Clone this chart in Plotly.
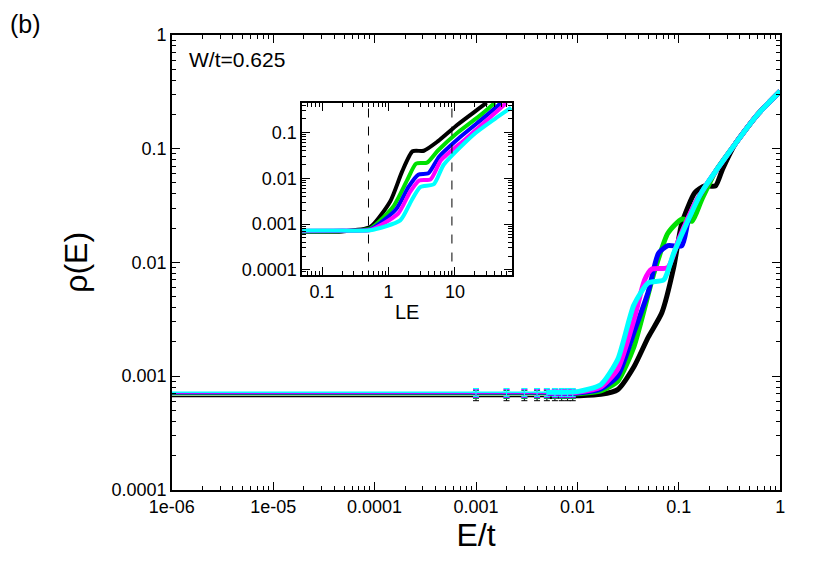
import numpy as np
import plotly.graph_objects as go

colors = ["black", "#00e000", "blue", "magenta", "cyan"]

main_E = {
 "black":   [0.005, 0.01, 0.017, 0.025, 0.036, 0.05, 0.068, 0.089, 0.107, 0.144, 0.18, 0.23, 0.27, 0.36, 0.6, 1.0],
 "green":   [0.005, 0.01, 0.017, 0.025, 0.036, 0.057, 0.078, 0.107, 0.135, 0.167, 0.23, 0.36, 0.6, 1.0],
 "blue":    [0.005, 0.01, 0.017, 0.025, 0.036, 0.05, 0.063, 0.078, 0.107, 0.125, 0.167, 0.36, 0.6, 1.0],
 "magenta": [0.005, 0.01, 0.017, 0.025, 0.036, 0.046, 0.054, 0.078, 0.1, 0.15, 0.36, 0.6, 1.0],
 "cyan":    [0.005, 0.01, 0.017, 0.025, 0.036, 0.05, 0.071, 0.089, 0.167, 0.36, 0.6, 1.0],
}
main_rho = {
 "black":   [6.6e-4, 6.7e-4, 6.9e-4, 7.6e-4, 0.0012, 0.0022, 0.0036, 0.009, 0.022, 0.041, 0.047, 0.047, 0.066, 0.11, 0.2, 0.32],
 "green":   [6.9e-4, 7.0e-4, 7.4e-4, 9.0e-4, 0.0018, 0.0081, 0.018, 0.024, 0.023, 0.035, 0.063, 0.11, 0.2, 0.32],
 "blue":    [7.0e-4, 7.1e-4, 7.7e-4, 1.0e-3, 0.0024, 0.0055, 0.012, 0.014, 0.014, 0.024, 0.041, 0.11, 0.2, 0.32],
 "magenta": [7.1e-4, 7.2e-4, 8.0e-4, 1.15e-3, 0.0031, 0.007, 0.0087, 0.009, 0.016, 0.035, 0.11, 0.2, 0.32],
 "cyan":    [7.2e-4, 7.3e-4, 8.4e-4, 1.4e-3, 0.0042, 0.0066, 0.007, 0.012, 0.041, 0.11, 0.2, 0.32],
}
flat_level = {"black": 6.6e-4, "green": 6.9e-4, "blue": 7.0e-4, "magenta": 7.1e-4, "cyan": 7.2e-4}
err_E = [0.001, 0.002, 0.003, 0.004, 0.005, 0.006, 0.007, 0.008, 0.009]

ins_LE = {
 "black":   [0.05, 0.2, 0.53, 1.07, 1.6, 2.3, 3.4, 5.5, 11, 22, 30],
 "green":   [0.05, 0.2, 0.53, 1.2, 1.9, 2.6, 3.8, 5.5, 11, 25, 40],
 "blue":    [0.05, 0.2, 0.53, 1.3, 2.0, 2.8, 4.0, 5.8, 12, 28, 50],
 "magenta": [0.05, 0.2, 0.53, 1.4, 2.1, 2.9, 4.3, 6.2, 14, 32, 60],
 "cyan":    [0.05, 0.2, 0.53, 1.5, 2.2, 3.0, 4.8, 6.8, 19, 40, 70],
}
ins_rho = {
 "black":   [6.8e-4, 6.9e-4, 8.6e-4, 0.0032, 0.014, 0.039, 0.04, 0.064, 0.15, 0.32, 0.45],
 "green":   [6.9e-4, 7.0e-4, 8.0e-4, 0.0025, 0.009, 0.021, 0.022, 0.04, 0.1, 0.25, 0.45],
 "blue":    [7.0e-4, 7.1e-4, 7.6e-4, 0.0021, 0.0065, 0.012, 0.013, 0.03, 0.08, 0.22, 0.45],
 "magenta": [7.1e-4, 7.2e-4, 7.4e-4, 0.0017, 0.005, 0.009, 0.0095, 0.025, 0.07, 0.2, 0.45],
 "cyan":    [7.2e-4, 7.2e-4, 7.3e-4, 0.0012, 0.0032, 0.0064, 0.0074, 0.02, 0.09, 0.2, 0.35],
}
dashed_LE = [0.5, 9.0]

names = ["black", "green", "blue", "magenta", "cyan"]
fig = go.Figure()
for n, c in zip(names, colors):
    fig.add_trace(go.Scatter(x=[1e-6, 0.005], y=[flat_level[n]]*2, mode="lines",
                             line=dict(color=c, width=1.5), showlegend=False))
    fig.add_trace(go.Scatter(x=err_E, y=[flat_level[n]]*len(err_E), mode="markers",
                             marker=dict(symbol="line-ew", size=6, color=c, line=dict(color=c, width=1)),
                             error_y=dict(type="percent", value=8, color=c, width=3, thickness=1),
                             showlegend=False))
    fig.add_trace(go.Scatter(x=main_E[n], y=main_rho[n], mode="lines", line=dict(color=c, width=5, shape="spline", smoothing=0.6),
                             showlegend=False))
    fig.add_trace(go.Scatter(x=ins_LE[n], y=ins_rho[n], mode="lines", xaxis="x2", yaxis="y2",
                             line=dict(color=c, width=4, shape="spline", smoothing=0.6), showlegend=False))
for d in dashed_LE:
    fig.add_trace(go.Scatter(x=[d, d], y=[1e-5, 1], mode="lines", xaxis="x2", yaxis="y2",
                             line=dict(color="black", width=1, dash="dash"), showlegend=False))

def minors(lo, hi):
    return [m * 10.0**k for k in range(lo, hi) for m in range(2, 10)]

xt = [1e-6, 1e-5, 1e-4, 1e-3, 1e-2, 0.1, 1]
xtt = ["1e-06", "1e-05", "0.0001", "0.001", "0.01", "0.1", "1"]
yt = [1e-4, 1e-3, 1e-2, 0.1, 1]
ytt = ["0.0001", "0.001", "0.01", "0.1", "1"]
F = "Liberation Sans"
dx, dy = 8 / 830, 8 / 581
ax = dict(type="log", showgrid=False, zeroline=False, ticks="inside", mirror="allticks", automargin=False,
          showline=True, linecolor="black", linewidth=1.5, ticklen=8, tickcolor="black",
          tickfont=dict(family=F, size=18, color="black"))
fig.update_layout(
    width=830, height=581, plot_bgcolor="white", paper_bgcolor="white",
    margin=dict(l=0, r=0, t=0, b=0),
    xaxis=dict(**ax, domain=[0.207 - dx, 0.94 - dx], range=[-6, 0], tickvals=xt, ticktext=xtt,
               minor=dict(tickvals=minors(-6, 0), ticks="inside", ticklen=4, tickcolor="black"),
               title=dict(text="E/t", font=dict(size=32, family=F, color="black"), standoff=2)),
    yaxis=dict(**ax, domain=[0.157 + dy, 0.94 + dy], range=[-4, 0], tickvals=yt, ticktext=ytt,
               minor=dict(tickvals=minors(-4, 0), ticks="inside", ticklen=4, tickcolor="black"),
               title=dict(text="ρ(E)", font=dict(size=32, family=F, color="black"), standoff=14)),
    xaxis2=dict(**ax, domain=[0.364 - dx, 0.617 - dx], range=[-1.3, 1.86], anchor="y2",
                tickvals=[0.1, 1, 10], ticktext=["0.1", "1", "10"],
                minor=dict(tickvals=minors(-2, 2), ticks="inside", ticklen=4, tickcolor="black"),
                title=dict(text="LE", font=dict(size=20, family=F, color="black"), standoff=4)),
    yaxis2=dict(**ax, domain=[0.527 + dy, 0.823 + dy], range=[-4.11, -0.35], anchor="x2",
                tickvals=yt[:4], ticktext=ytt[:4],
                minor=dict(tickvals=minors(-5, 0), ticks="inside", ticklen=4, tickcolor="black")),
    annotations=[
        dict(text="(b)", x=0.0, y=1.0, xref="paper", yref="paper", xanchor="left", yanchor="top",
             showarrow=False, font=dict(size=25, family=F, color="black")),
        dict(text="W/t=0.625", x=0.225 - dx, y=0.92 + dy, xref="paper", yref="paper", xanchor="left", yanchor="top",
             showarrow=False, font=dict(size=21, family=F, color="black")),
    ],
)
fig.write_html("out.html")
